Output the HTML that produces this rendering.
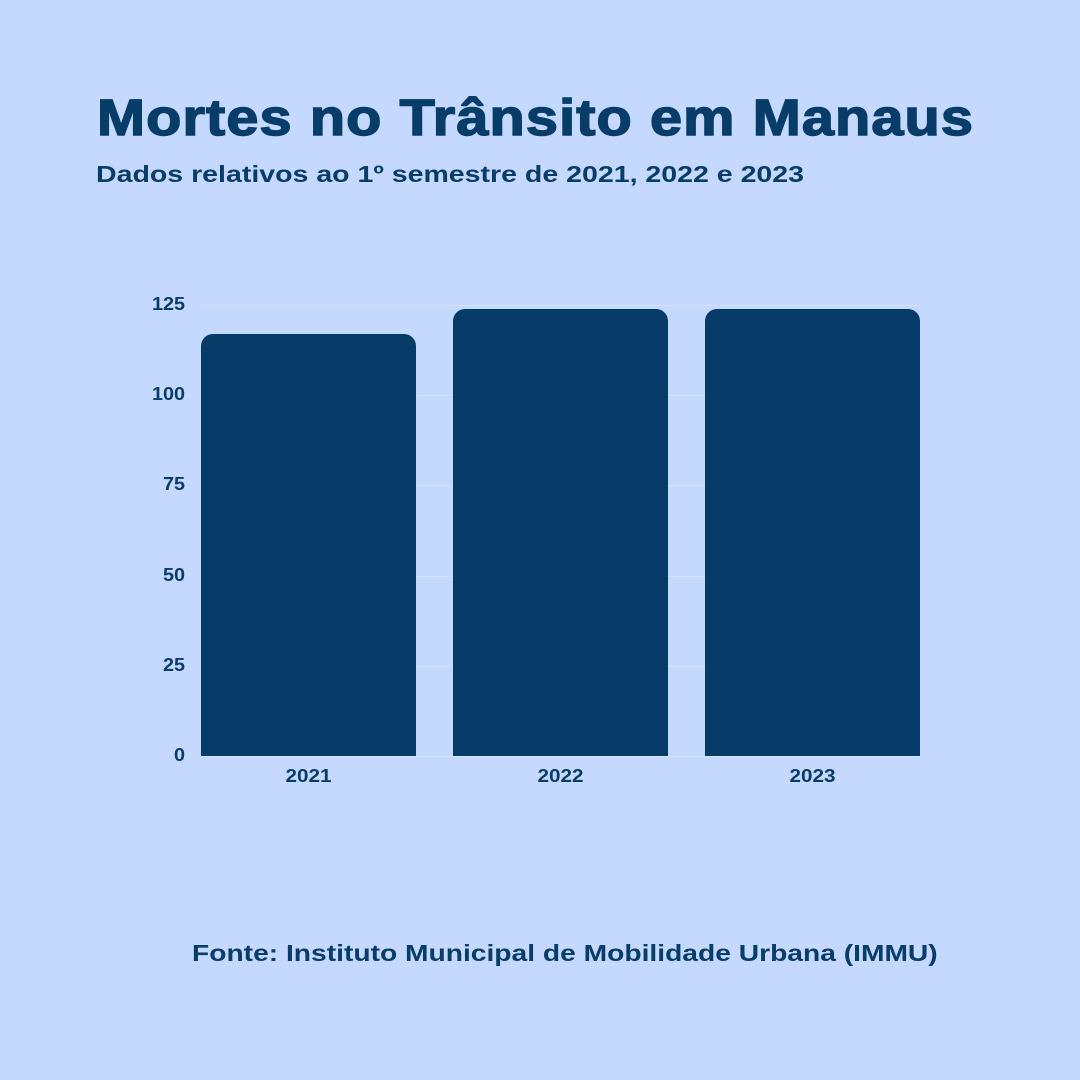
<!DOCTYPE html>
<html><head><meta charset="utf-8"><style>
body{margin:0;width:1080px;height:1080px;background:#c5d8fd;position:relative;overflow:hidden;font-family:"Liberation Sans",sans-serif;color:#073d68}
.t{position:absolute;left:97px;top:88px;font-size:51px;font-weight:900;letter-spacing:1px;white-space:nowrap;-webkit-text-stroke:1.5px #073d68;transform:scaleX(1.13);transform-origin:0 0}
.s{position:absolute;left:96px;top:161px;font-size:23px;font-weight:bold;white-space:nowrap;transform:scaleX(1.24);transform-origin:0 0}
.f{position:absolute;left:192px;top:940px;font-size:23.5px;font-weight:bold;white-space:nowrap;transform:scaleX(1.2);transform-origin:0 0}
.g{position:absolute;left:201px;width:719px;height:1px;background:#d4e2fb}
.y{position:absolute;width:45px;left:140px;text-align:right;font-size:18px;font-weight:bold;transform:scaleX(1.1);transform-origin:100% 0}
.b{position:absolute;width:215px;background:#063c67;border-radius:12px 12px 0 0;bottom:324px}
.x{position:absolute;top:766px;width:215px;text-align:center;font-size:18px;font-weight:bold;transform:scaleX(1.15)}
</style></head><body>
<div class="t">Mortes no Trânsito em Manaus</div>
<div class="s">Dados relativos ao 1º semestre de 2021, 2022 e 2023</div>
<div class="g" style="top:305px"></div><div class="g" style="top:395px"></div><div class="g" style="top:485px"></div><div class="g" style="top:576px"></div><div class="g" style="top:666px"></div><div class="g" style="top:756px"></div>
<div class="y" style="top:294px">125</div><div class="y" style="top:384px">100</div><div class="y" style="top:474px">75</div><div class="y" style="top:565px">50</div><div class="y" style="top:655px">25</div><div class="y" style="top:745px">0</div>
<div class="b" style="left:201px;top:334px"></div>
<div class="b" style="left:453px;top:309px"></div>
<div class="b" style="left:705px;top:309px"></div>
<div class="x" style="left:201px">2021</div><div class="x" style="left:453px">2022</div><div class="x" style="left:705px">2023</div>
<div class="f">Fonte: Instituto Municipal de Mobilidade Urbana (IMMU)</div>
</body></html>
